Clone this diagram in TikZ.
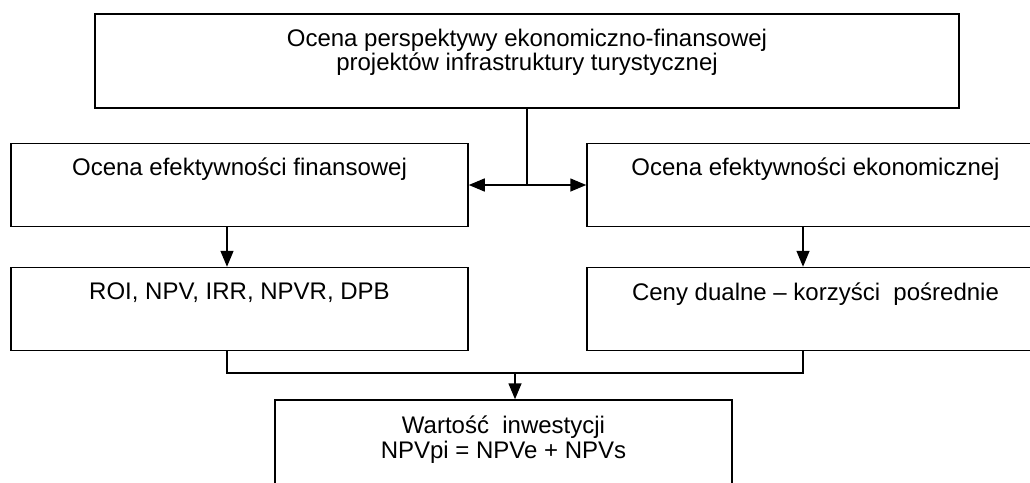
\documentclass[tikz,border=0pt]{standalone}
\usepackage{fontspec}
\setmainfont{Liberation Sans}
\usetikzlibrary{arrows.meta}

\tikzset{
  box/.style={draw, line width=1.5pt, minimum width=457pt, minimum height=83pt, inner sep=0pt},
  txt/.style={inner sep=0pt, anchor=north, align=center, font=\fontsize{24}{24.5}\selectfont},
  arr/.style={-{Triangle[length=16pt,width=13pt]}, line width=1.5pt},
  wire/.style={line width=1.5pt}
}

\begin{document}
\begin{tikzpicture}[x=1pt,y=-1pt]
\useasboundingbox (0,0) rectangle (1030,482);
\clip (0,0) rectangle (1030,482);

\node[box, minimum width=864pt, minimum height=94pt] (top) at (527,61) {};
\node[box] (fin) at (239.5,185) {};
\node[box] (eko) at (815.5,185) {};
\node[box] (roi) at (239.5,309) {};
\node[box] (dual) at (815.5,309) {};
\node[box, minimum height=92pt] (val) at (503.5,446) {};

% teksty w ramkach
\node[txt] (topt) at ([yshift=-15.5pt]top.north) {Ocena perspektywy ekonomiczno-finansowej\\projektów infrastruktury turystycznej};
\node[txt] (fint) at ([yshift=-15pt]fin.north) {Ocena efektywności finansowej};
\node[txt] (ekot) at ([yshift=-15pt]eko.north) {Ocena efektywności ekonomicznej};
\node[txt] (roit) at ([yshift=-15.5pt]roi.north) {ROI, NPV, IRR, NPVR, DPB};
\node[txt] (dualt) at ([yshift=-15.5pt]dual.north) {Ceny dualne – korzyści\ \ pośrednie};
\node[txt] (valt) at ([yshift=-16.5pt]val.north) {Wartość\ \ inwestycji\\NPVpi = NPVe + NPVs};

\coordinate (split) at (top.south |- fin.east);
\coordinate (join) at (515,373);

\draw[wire] (top.south) -- (split);
\draw[arr] (split) -- (fin.east);
\draw[arr] (split) -- (eko.west);
\draw[arr] ([xshift=-12.5pt]fin.south) -- ([xshift=-12.5pt]roi.north);
\draw[arr] ([xshift=-12.5pt]eko.south) -- ([xshift=-12.5pt]dual.north);
\draw[wire] ([xshift=-12.5pt]roi.south) |- (join) -| ([xshift=-12.5pt]dual.south);
\draw[arr] (join) -- (join |- val.north);
\end{tikzpicture}
\end{document}
